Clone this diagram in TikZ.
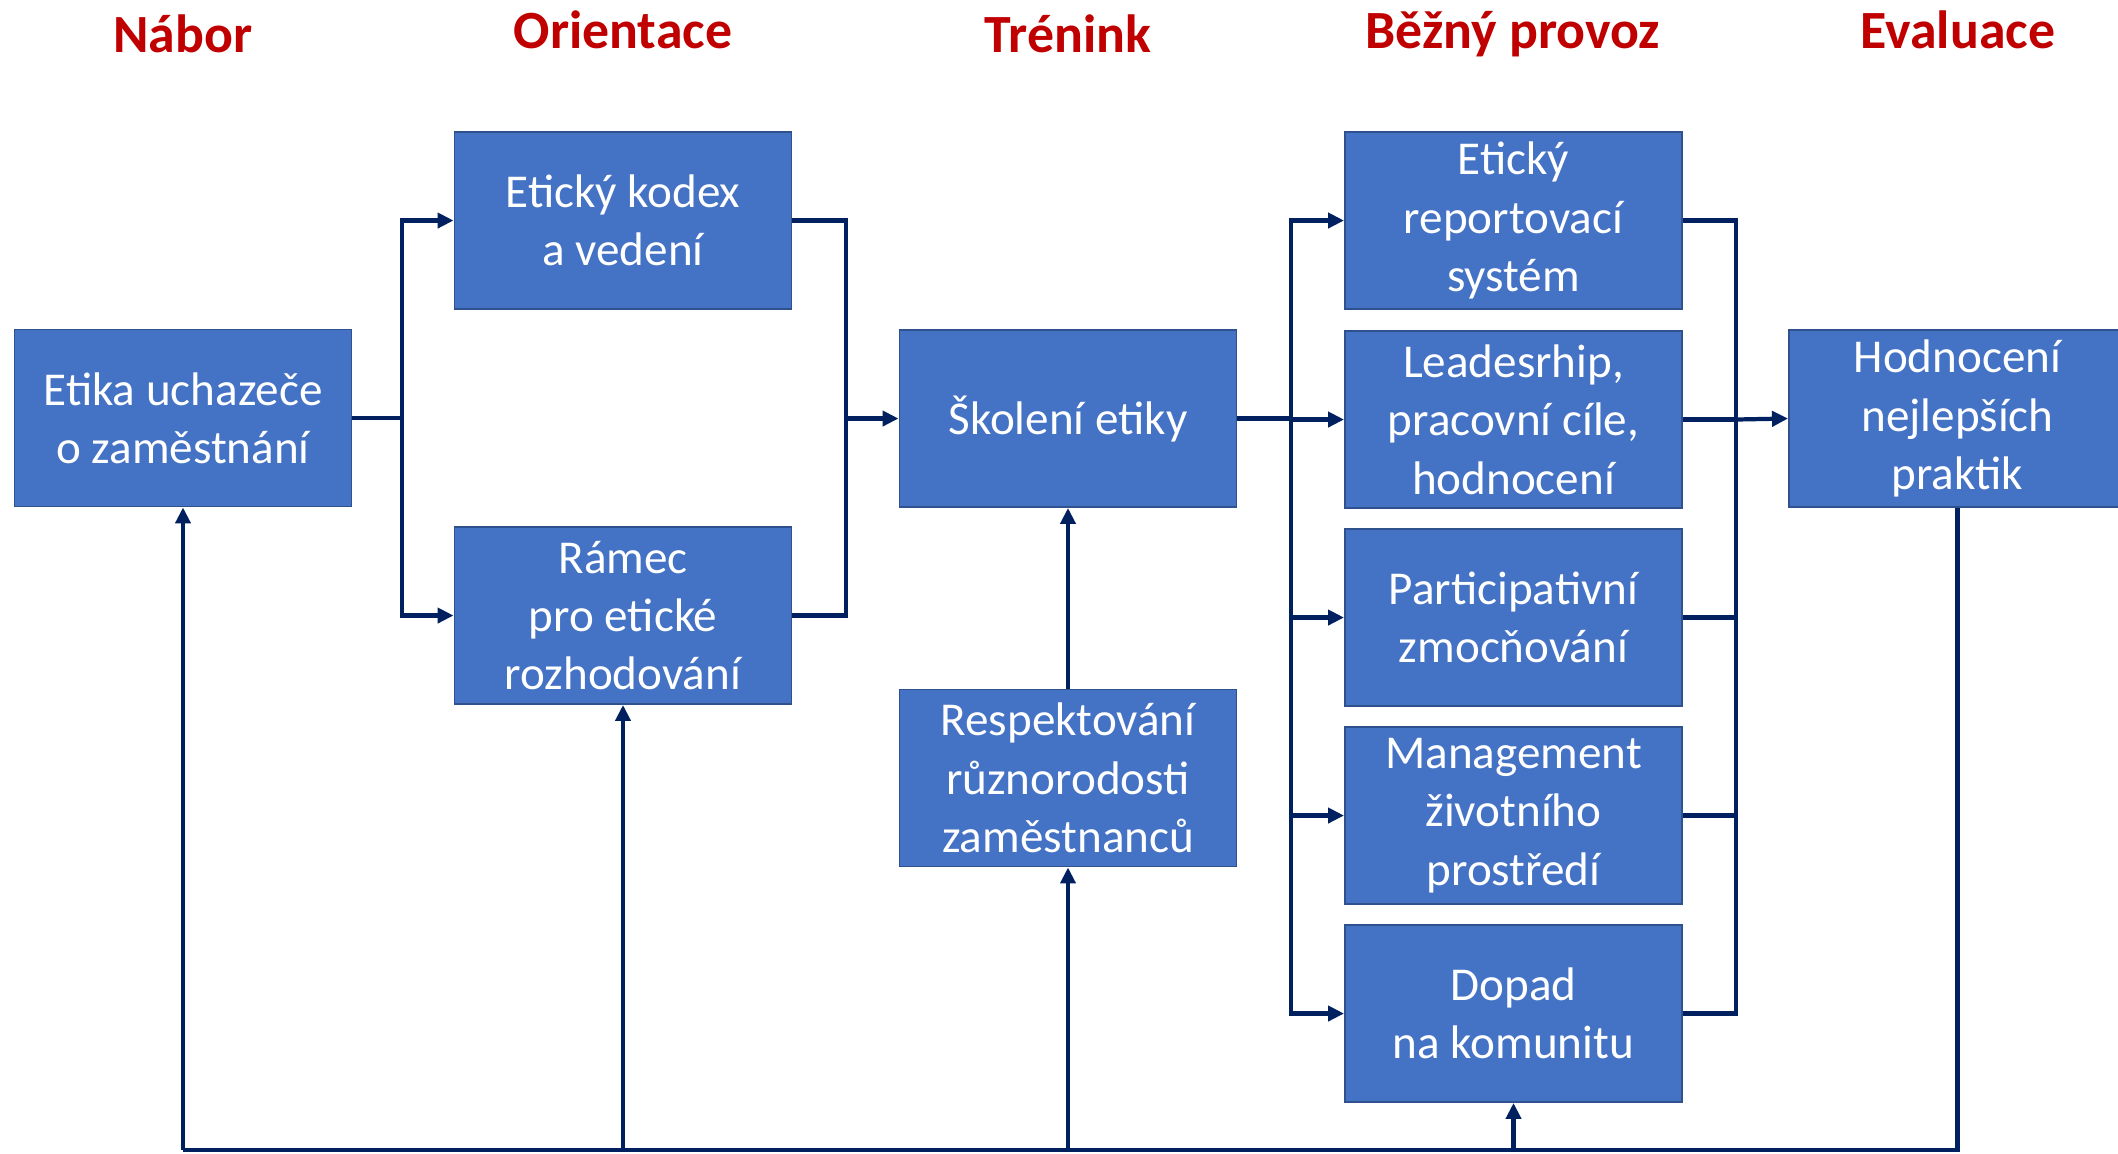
\documentclass[tikz,border=0pt]{standalone}
\usepackage{fontspec}
\setmainfont{Carlito}
\usetikzlibrary{arrows.meta}
\definecolor{boxfill}{HTML}{4472C4}
\definecolor{boxline}{HTML}{2F528F}
\definecolor{navyline}{HTML}{002060}
\definecolor{titlered}{HTML}{C00000}
\begin{document}
\begin{tikzpicture}[x=0.01cm,y=-0.01cm,
 stagebox/.style={draw=boxline, line width=0.5pt, fill=boxfill, text=white,
   minimum width=3.37cm, minimum height=1.77cm, inner sep=0pt, align=center,
   font=\fontsize{13.4}{16.6}\selectfont},
 ttl/.style={text=titlered, font=\fontsize{15.3}{18}\selectfont\bfseries, anchor=base},
 link/.style={draw=navyline, line width=1.2pt},
 arr/.style={link, -{Triangle[length=0.16cm,width=0.15cm]}}
]
\useasboundingbox (0,0) rectangle (2118,1153);

% titles
\node[ttl] (t1) at (183,52) {Nábor};
\node[ttl] (t2) at (623,48) {Orientace};
\node[ttl] (t3) at (1068,52) {Trénink};
\node[ttl] (t4) at (1513,48) {Běžný provoz};
\node[ttl] (t5) at (1958,48) {Evaluace};

% boxes
\node[stagebox] (b1) at (183,418) {Etika uchazeče\\o zaměstnání};
\node[stagebox] (b2) at (623,220.5) {Etický kodex\\a vedení};
\node[stagebox] (b3) at (623,615.5) {Rámec\\pro etické\\rozhodování};
\node[stagebox] (b4) at (1068,418.5) {Školení etiky};
\node[stagebox] (b5) at (1068,778) {Respektování\\různorodosti\\zaměstnanců};
\node[stagebox] (c1) at (1513.5,220.5) {Etický\\reportovací\\systém};
\node[stagebox] (c2) at (1513.5,419.5) {Leadesrhip,\\pracovní cíle,\\hodnocení};
\node[stagebox] (c3) at (1513.5,617.5) {Participativní\\zmocňování};
\node[stagebox] (c4) at (1513.5,815.5) {Management\\životního\\prostředí};
\node[stagebox] (c5) at (1513.5,1013.5) {Dopad\\na komunitu};
\node[stagebox] (e1) at (1957.5,418.5) {Hodnocení\\nejlepších\\praktik};

% connectors
\coordinate (s1) at (402,418);
\draw[link] (b1.east) -- (s1);
\draw[arr] (s1) |- (b2.west);
\draw[arr] (s1) |- (b3.west);

\coordinate (s2) at (846,418.5);
\draw[link] (b2.east) -| (s2);
\draw[link] (b3.east) -| (s2);
\draw[arr] (s2) -- (b4.west);

\draw[arr] (b5.north) -- (b4.south);

\coordinate (s3) at (1291,418.5);
\draw[link] (b4.east) -- (s3);
\foreach \n in {c1,c2,c3,c4,c5}{
  \draw[arr] (s3) |- (\n.west);
}

\coordinate (s4) at (1736,419.5);
\foreach \n in {c1,c2,c3,c4,c5}{
  \draw[link] (\n.east) -| (s4);
}
\draw[arr] (s4) -- (e1.west);

% feedback loop
\coordinate (bot) at (1957.5,1150);
\draw[link] (e1.south) -- (bot) -- (b1.south |- bot);
\draw[arr] (b1.south |- bot) -- (b1.south);
\draw[arr] (b3.south |- bot) -- (b3.south);
\draw[arr] (b5.south |- bot) -- (b5.south);
\draw[arr] (c5.south |- bot) -- (c5.south);
\end{tikzpicture}
\end{document}
